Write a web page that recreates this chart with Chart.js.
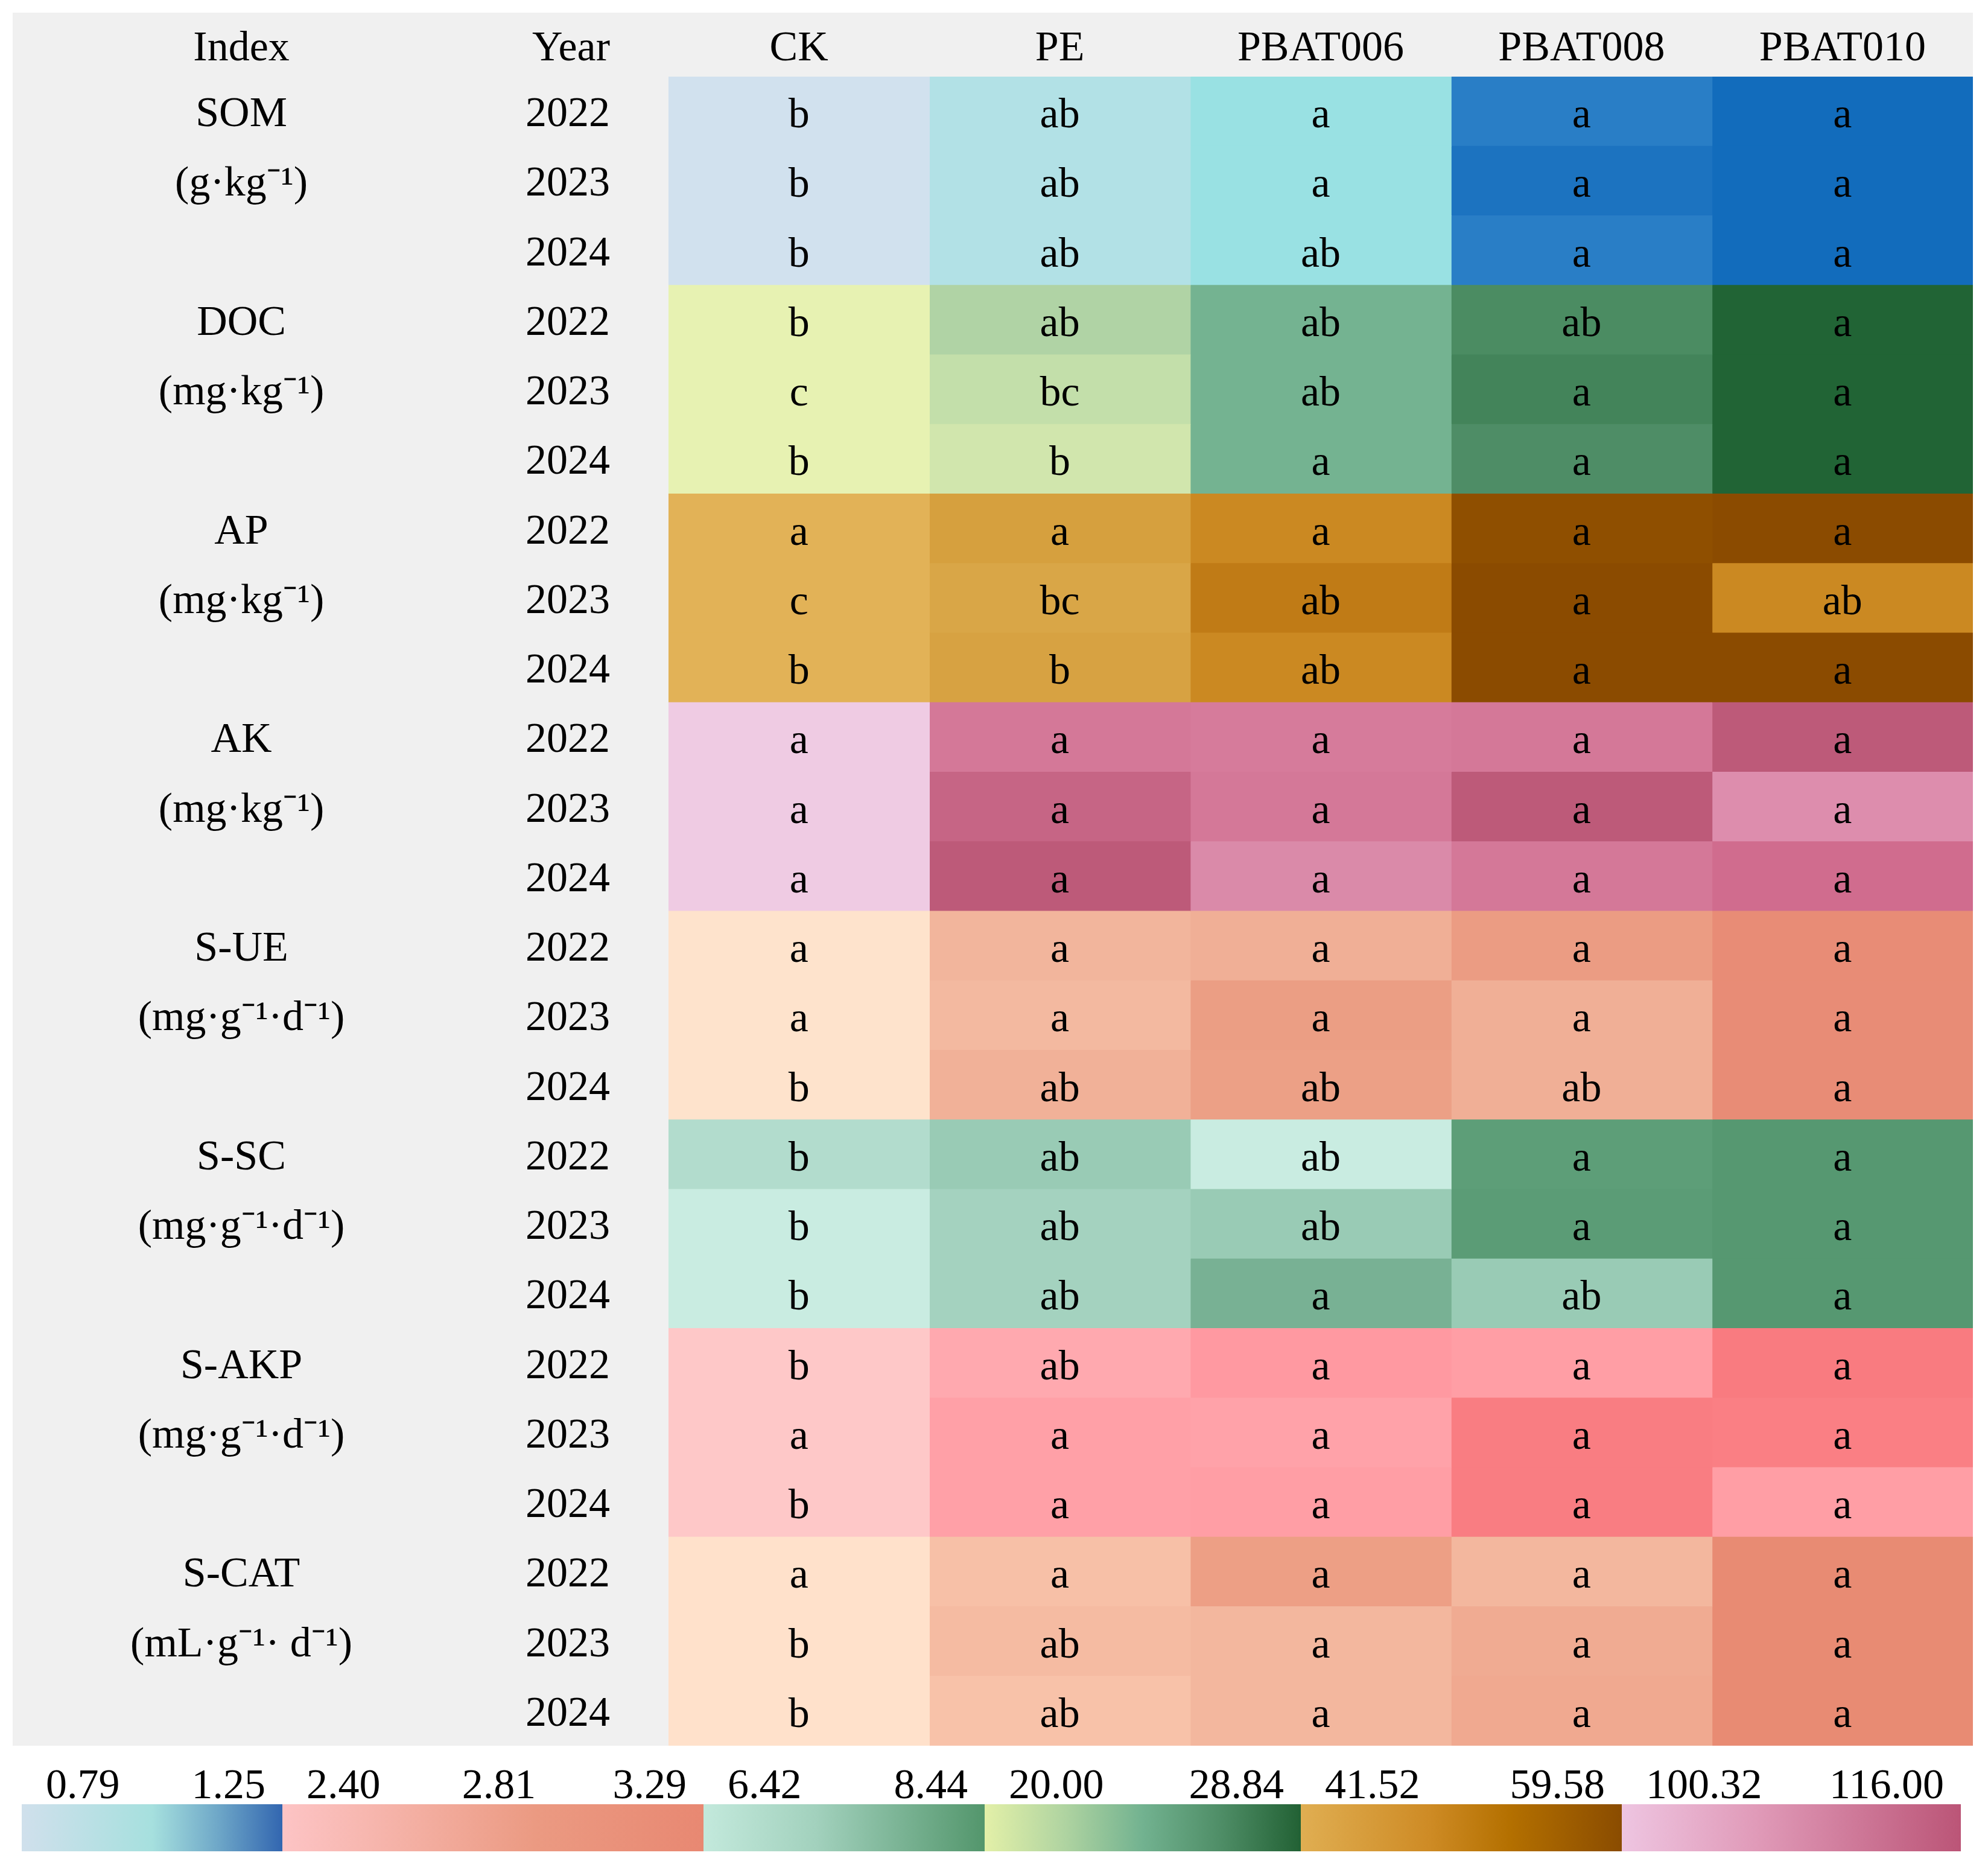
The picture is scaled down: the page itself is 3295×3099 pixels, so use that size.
<!DOCTYPE html>
<html>
<head>
<meta charset="utf-8">
<script src="https://cdn.jsdelivr.net/npm/chart.js@4.4.1/dist/chart.umd.min.js"></script>
<style>
  html, body { margin: 0; padding: 0; background: #ffffff; }
  #wrap { width: 3295px; height: 3099px; position: relative; }
</style>
</head>
<body>
<div id="wrap"><canvas id="heat"></canvas></div>
<script>
var treatments = ['CK', 'PE', 'PBAT006', 'PBAT008', 'PBAT010'];
var years = ['2022', '2023', '2024'];
var indexNames = ['SOM', 'DOC', 'AP', 'AK', 'S-UE', 'S-SC', 'S-AKP', 'S-CAT'];
var indexUnits = ['(g·kg⁻¹)', '(mg·kg⁻¹)', '(mg·kg⁻¹)', '(mg·kg⁻¹)',
    '(mg·g⁻¹·d⁻¹)', '(mg·g⁻¹·d⁻¹)', '(mg·g⁻¹·d⁻¹)', '(mL·g⁻¹· d⁻¹)'];

// cell values: one row per year (2022, 2023, 2024), one column per treatment
var valSOM  = [[0.79, 0.93, 1.00, 1.16, 1.25], [0.79, 0.93, 1.00, 1.20, 1.25], [0.79, 0.93, 1.00, 1.16, 1.25]];
var valDOC  = [[20.00, 22.65, 24.42, 26.72, 28.84], [20.00, 21.94, 24.42, 27.07, 28.84], [20.00, 21.33, 24.42, 26.54, 28.84]];
var valAP   = [[41.52, 45.13, 48.74, 58.68, 59.58], [41.52, 44.23, 50.55, 59.58, 48.74], [41.52, 44.77, 48.74, 59.58, 59.58]];
var valAK   = [[100.32, 110.51, 109.73, 110.51, 116.00], [100.32, 113.65, 110.51, 116.00, 108.16], [100.32, 116.00, 108.47, 110.51, 112.08]];
var valSUE  = [[2.81, 3.05, 3.08, 3.18, 3.29], [2.81, 3.03, 3.17, 3.08, 3.29], [2.81, 3.07, 3.16, 3.08, 3.29]];
var valSSC  = [[6.72, 7.19, 6.42, 8.24, 8.44], [6.42, 7.03, 7.19, 8.30, 8.44], [6.42, 7.03, 7.63, 7.19, 8.44]];
var valSAKP = [[2.40, 2.54, 2.65, 2.61, 2.81], [2.40, 2.59, 2.58, 2.80, 2.79], [2.40, 2.59, 2.61, 2.80, 2.61]];
var valSCAT = [[2.81, 3.00, 3.17, 3.05, 3.29], [2.81, 3.03, 3.05, 3.10, 3.29], [2.81, 2.99, 3.05, 3.11, 3.29]];

// significance letters, same layout
var sigSOM  = [['b', 'ab', 'a', 'a', 'a'], ['b', 'ab', 'a', 'a', 'a'], ['b', 'ab', 'ab', 'a', 'a']];
var sigDOC  = [['b', 'ab', 'ab', 'ab', 'a'], ['c', 'bc', 'ab', 'a', 'a'], ['b', 'b', 'a', 'a', 'a']];
var sigAP   = [['a', 'a', 'a', 'a', 'a'], ['c', 'bc', 'ab', 'a', 'ab'], ['b', 'b', 'ab', 'a', 'a']];
var sigAK   = [['a', 'a', 'a', 'a', 'a'], ['a', 'a', 'a', 'a', 'a'], ['a', 'a', 'a', 'a', 'a']];
var sigSUE  = [['a', 'a', 'a', 'a', 'a'], ['a', 'a', 'a', 'a', 'a'], ['b', 'ab', 'ab', 'ab', 'a']];
var sigSSC  = [['b', 'ab', 'ab', 'a', 'a'], ['b', 'ab', 'ab', 'a', 'a'], ['b', 'ab', 'a', 'ab', 'a']];
var sigSAKP = [['b', 'ab', 'a', 'a', 'a'], ['a', 'a', 'a', 'a', 'a'], ['b', 'a', 'a', 'a', 'a']];
var sigSCAT = [['a', 'a', 'a', 'a', 'a'], ['b', 'ab', 'a', 'a', 'a'], ['b', 'ab', 'a', 'a', 'a']];

// colour bar tick labels, one list per bar segment
var cbarTicks = [['0.79', '1.25'], ['2.40', '2.81', '3.29'], ['6.42', '8.44'],
    ['20.00', '28.84'], ['41.52', '59.58'], ['100.32', '116.00']];

// ---- styles ----
var FONT = '"Liberation Serif", "Times New Roman", serif';
var FSIZE = 70;

var ramps = [
    [[0, '#d1e1ee'], [0.30, '#b3e1e6'], [0.46, '#98e1e3'], [0.80, '#2a7fc6'], [0.89, '#1c73c0'], [1, '#126cbc']],
    [[0, '#e7f2b2'], [0.15, '#d1e6ad'], [0.22, '#c3dfaa'], [0.30, '#b0d3a5'], [0.50, '#74b391'], [0.74, '#4e8d66'], [0.76, '#4b8c62'], [0.80, '#43845a'], [1, '#216435']],
    [[0, '#e2b257'], [0.15, '#d9a647'], [0.20, '#d6a03e'], [0.40, '#cb8922'], [0.50, '#c07b16'], [0.95, '#8f4f00'], [1, '#8b4b00']],
    [[0, '#efcbe3'], [0.50, '#dd8dad'], [0.52, '#da8aa9'], [0.60, '#d67b9b'], [0.65, '#d47898'], [0.75, '#d06c8e'], [0.85, '#c66585'], [1, '#bd5a79']],
    [[0, '#fee3cc'], [0.50, '#f2b59c'], [0.75, '#eb9e84'], [1, '#e88c76']],
    [[0, '#c9ece1'], [0.15, '#b2dccd'], [0.30, '#a4d2bf'], [0.38, '#99cbb5'], [0.60, '#78b194'], [0.90, '#5d9e78'], [1, '#569871']],
    [[0, '#fec8c8'], [0.35, '#ffa8ae'], [0.50, '#ff9ea5'], [0.60, '#ff9aa2'], [1, '#f97b80']],
    [[0, '#ffe1cb'], [0.40, '#f7c0a7'], [0.50, '#f3b79e'], [0.60, '#f0ab92'], [0.75, '#ed9f85'], [1, '#e88b73']]
];

var cbarRamps = [
    [[0, '#d0e0ec'], [0.5, '#a6e0de'], [0.75, '#6fa8c8'], [1, '#3266b0']],
    [[0, '#fdc4c5'], [0.3, '#f4b0a4'], [0.6, '#eb9a82'], [1, '#e88872']],
    [[0, '#c3e9dc'], [0.4, '#a2d1bd'], [1, '#53966c']],
    [[0, '#e3f0a8'], [0.25, '#b0d4a1'], [0.5, '#72b290'], [0.75, '#4e8d66'], [1, '#226134']],
    [[0, '#e0ae52'], [0.4, '#ce8b25'], [0.65, '#b47000'], [1, '#8a4c00']],
    [[0, '#eec5e1'], [0.4, '#e09ab8'], [1, '#bb5577']]
];
var cbarEdges = [36, 468, 1166, 1632, 2156, 2688, 3250];

var PAD = { left: 21, top: 21, right: 25, bottom: 206 };
var IDX_W = 754, YEAR_W = 333, HEAD_H = 106;
var YEAR_PAD = 97, HEAD_PAD = 3, IDX_CENTER = 400;

function hexRgb(h) {
    return [parseInt(h.slice(1, 3), 16), parseInt(h.slice(3, 5), 16), parseInt(h.slice(5, 7), 16)];
}

function rampColor(stops, t) {
    t = Math.max(0, Math.min(1, t));
    for (var i = 1; i < stops.length; i++) {
        if (t <= stops[i][0]) {
            var a = hexRgb(stops[i - 1][1]), b = hexRgb(stops[i][1]);
            var f = (t - stops[i - 1][0]) / (stops[i][0] - stops[i - 1][0]);
            return 'rgb(' + a.map(function (v, j) { return Math.round(v + (b[j] - v) * f); }).join(',') + ')';
        }
    }
    return stops[stops.length - 1][1];
}

// ---- flatten the groups into 24 table rows ----
var valueSets = [valSOM, valDOC, valAP, valAK, valSUE, valSSC, valSAKP, valSCAT];
var letterSets = [sigSOM, sigDOC, sigAP, sigAK, sigSUE, sigSSC, sigSAKP, sigSCAT];

var rowYears = [], rowIndex = [], rowGroup = [], rowValues = [], rowLetters = [];
indexNames.forEach(function (name, k) {
    years.forEach(function (yr, r) {
        rowYears.push(yr);
        rowIndex.push(r === 0 ? name : (r === 1 ? indexUnits[k] : ''));
        rowGroup.push(k);
        rowValues.push(valueSets[k][r]);
        rowLetters.push(letterSets[k][r]);
    });
});

var groupMin = valueSets.map(function (v) { return Math.min.apply(null, [].concat.apply([], v)); });
var groupMax = valueSets.map(function (v) { return Math.max.apply(null, [].concat.apply([], v)); });

var datasets = treatments.map(function (name, c) {
    return {
        label: name,
        data: rowYears.map(function () { return 1; }),
        backgroundColor: rowValues.map(function (vals, i) {
            var k = rowGroup[i];
            return rampColor(ramps[k], (vals[c] - groupMin[k]) / (groupMax[k] - groupMin[k]));
        }),
        borderWidth: 0,
        barPercentage: 1,
        categoryPercentage: 1,
        inflateAmount: 0.6
    };
});

// centre the index column labels
var measure = document.createElement('canvas').getContext('2d');
measure.font = FSIZE + 'px ' + FONT;
var widestIdx = Math.max.apply(null, rowIndex.concat(['Index']).map(function (s) { return measure.measureText(s).width; }));
var IDX_PAD = Math.round(PAD.left + IDX_W - IDX_CENTER - widestIdx / 2);

var tablePlugin = {
    id: 'tablePlugin',
    beforeDraw: function (chart) {
        var ctx = chart.ctx, a = chart.chartArea;
        ctx.save();
        ctx.fillStyle = '#ffffff';
        ctx.fillRect(0, 0, chart.width, chart.height);
        ctx.fillStyle = '#f0f0f0';
        ctx.fillRect(PAD.left, PAD.top, a.right - PAD.left, a.bottom - PAD.top);
        ctx.restore();
    },
    afterDatasetsDraw: function (chart) {
        var ctx = chart.ctx;
        ctx.save();
        ctx.font = FSIZE + 'px ' + FONT;
        ctx.fillStyle = '#000000';
        ctx.textAlign = 'center';
        ctx.textBaseline = 'alphabetic';
        chart.data.datasets.forEach(function (ds, c) {
            chart.getDatasetMeta(c).data.forEach(function (bar, r) {
                ctx.fillText(rowLetters[r][c], (bar.x + bar.base) / 2, bar.y + FSIZE * 0.38);
            });
        });
        ctx.restore();
    },
    afterDraw: function (chart) {
        var ctx = chart.ctx, a = chart.chartArea;
        var top = chart.scales.xTop, yIdx = chart.scales.yIdx, yYear = chart.scales.y;
        ctx.save();
        ctx.font = FSIZE + 'px ' + FONT;
        ctx.fillStyle = '#000000';
        ctx.textBaseline = 'middle';
        var hy = top.bottom - HEAD_PAD - FSIZE * 0.6;
        ctx.textAlign = 'center';
        ctx.fillText('Index', yIdx.right - IDX_PAD - widestIdx / 2, hy);
        ctx.textAlign = 'right';
        ctx.fillText('Year', yYear.right - YEAR_PAD, hy);

        // colour bar
        var barTop = a.bottom + 97, barH = 78;
        ctx.textBaseline = 'alphabetic';
        cbarRamps.forEach(function (stops, i) {
            var x0 = cbarEdges[i], x1 = cbarEdges[i + 1];
            var g = ctx.createLinearGradient(x0, 0, x1, 0);
            stops.forEach(function (s) { g.addColorStop(s[0], s[1]); });
            ctx.fillStyle = g;
            ctx.fillRect(x0, barTop, x1 - x0, barH);
            var labels = cbarTicks[i];
            ctx.fillStyle = '#000000';
            ctx.textAlign = 'left';
            ctx.fillText(labels[0], x0 + 40, barTop - 10);
            ctx.textAlign = 'right';
            ctx.fillText(labels[labels.length - 1], x1 - 28, barTop - 10);
            if (labels.length > 2) {
                ctx.textAlign = 'center';
                ctx.fillText(labels[1], (x0 + x1) / 2 + 10, barTop - 10);
            }
        });
        ctx.restore();
    }
};

Chart.defaults.font.family = FONT;
Chart.defaults.font.size = FSIZE;
Chart.defaults.color = '#000000';

var noGrid = { display: false, drawTicks: false };

new Chart(document.getElementById('heat').getContext('2d'), {
    type: 'bar',
    data: { labels: rowYears, datasets: datasets },
    options: {
        indexAxis: 'y',
        responsive: true,
        maintainAspectRatio: false,
        devicePixelRatio: 1,
        animation: false,
        layout: { padding: PAD },
        plugins: { legend: { display: false }, tooltip: { enabled: false } },
        scales: {
            x: { type: 'linear', stacked: true, min: 0, max: treatments.length, display: false },
            xTop: {
                type: 'category', labels: treatments, position: 'top', offset: true,
                grid: noGrid, border: { display: false },
                ticks: { padding: HEAD_PAD, autoSkip: false, maxRotation: 0 },
                afterFit: function (s) { s.height = HEAD_H; s.paddingLeft = 0; s.paddingRight = 0; }
            },
            y: {
                type: 'category', stacked: true, offset: true, position: 'left', weight: 1,
                grid: noGrid, border: { display: false },
                ticks: { autoSkip: false, crossAlign: 'near', padding: YEAR_PAD, labelOffset: 6 },
                afterFit: function (s) { s.width = YEAR_W; s.paddingTop = 0; s.paddingBottom = 0; }
            },
            yIdx: {
                type: 'category', labels: rowIndex, offset: true, position: 'left', weight: 2,
                grid: noGrid, border: { display: false },
                ticks: { autoSkip: false, crossAlign: 'center', padding: IDX_PAD, labelOffset: 6 },
                afterFit: function (s) { s.width = IDX_W; s.paddingTop = 0; s.paddingBottom = 0; }
            }
        }
    },
    plugins: [tablePlugin]
});
</script>
</body>
</html>
